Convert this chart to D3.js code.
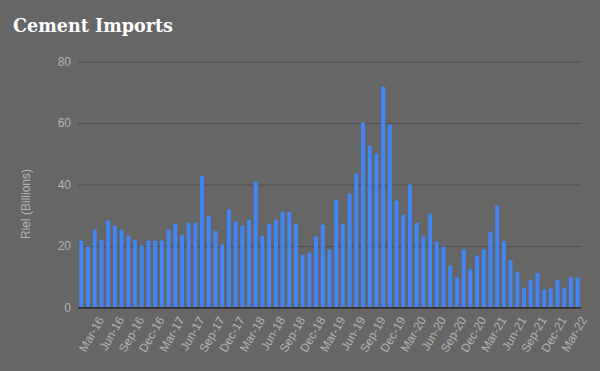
<!DOCTYPE html>
<html><head><meta charset="utf-8">
<script src="https://cdn.jsdelivr.net/npm/d3@7"></script>
<style>html,body{margin:0;padding:0;background:#666666;}svg{display:block;}</style>
</head><body>
<svg id="chart" width="600" height="371"></svg>
<script>
const months = ["Jan-16","Feb-16","Mar-16","Apr-16","May-16","Jun-16","Jul-16","Aug-16","Sep-16","Oct-16","Nov-16","Dec-16",
"Jan-17","Feb-17","Mar-17","Apr-17","May-17","Jun-17","Jul-17","Aug-17","Sep-17","Oct-17","Nov-17","Dec-17",
"Jan-18","Feb-18","Mar-18","Apr-18","May-18","Jun-18","Jul-18","Aug-18","Sep-18","Oct-18","Nov-18","Dec-18",
"Jan-19","Feb-19","Mar-19","Apr-19","May-19","Jun-19","Jul-19","Aug-19","Sep-19","Oct-19","Nov-19","Dec-19",
"Jan-20","Feb-20","Mar-20","Apr-20","May-20","Jun-20","Jul-20","Aug-20","Sep-20","Oct-20","Nov-20","Dec-20",
"Jan-21","Feb-21","Mar-21","Apr-21","May-21","Jun-21","Jul-21","Aug-21","Sep-21","Oct-21","Nov-21","Dec-21",
"Jan-22","Feb-22","Mar-22"];
const imports = [21.8,20.0,25.4,22.1,28.3,26.7,25.4,23.4,22.1,20.2,21.8,21.8,
21.8,25.4,27.3,23.7,27.6,27.6,42.9,29.9,25.0,20.5,31.9,28.0,
26.7,28.6,41.0,23.4,27.3,28.6,31.2,31.2,27.3,17.2,17.9,23.1,
27.0,18.9,35.1,27.3,37.1,43.6,60.2,52.7,50.1,71.9,59.5,34.8,
30.2,40.0,27.6,23.1,30.6,21.5,19.9,13.7,9.9,19.0,12.5,17.0,
19.0,24.8,33.3,21.6,15.4,11.5,6.6,8.9,11.2,6.0,6.3,9.2,
6.6,9.9,9.9];
const tickLabels = ["Mar-16","Jun-16","Sep-16","Dec-16","Mar-17","Jun-17","Sep-17","Dec-17","Mar-18","Jun-18","Sep-18","Dec-18",
"Mar-19","Jun-19","Sep-19","Dec-19","Mar-20","Jun-20","Sep-20","Dec-20","Mar-21","Jun-21","Sep-21","Dec-21","Mar-22"];
const yTicks = [0,20,40,60,80];

const svg = d3.select("#chart");
const mLeft = 78, mRight = 581, mTop = 61.5, mBottom = 307.7;

const x = d3.scaleBand().domain(months).range([mLeft, mRight]).paddingInner(0.4).paddingOuter(0.2);
const y = d3.scaleLinear().domain([0, 80]).range([mBottom, mTop]);

svg.append("rect").attr("width",600).attr("height",371).attr("fill","#666666");

svg.append("text").attr("x",13).attr("y",32)
  .attr("font-family","'DejaVu Serif', serif").attr("font-weight","bold")
  .attr("font-size",18).attr("fill","#ffffff")
  .attr("textLength",160).attr("lengthAdjust","spacingAndGlyphs")
  .text("Cement Imports");

// gridlines
const yAxis = d3.axisLeft(y).tickValues(yTicks).tickSize(-(mRight-mLeft)).tickPadding(7);
const gy = svg.append("g").attr("transform",`translate(${mLeft},0)`).call(yAxis);
gy.select(".domain").remove();
gy.selectAll(".tick line").attr("stroke","#4d4d4d").attr("stroke-width",1);
gy.selectAll(".tick text").attr("fill","#b3b3b3").attr("font-family","Arial, 'Liberation Sans', sans-serif").attr("font-size",12);

svg.append("g").selectAll("rect").data(imports).join("rect")
  .attr("x",(d,i)=>x(months[i]))
  .attr("width",x.bandwidth())
  .attr("y",d=>y(d))
  .attr("height",d=>y(0)-y(d))
  .attr("rx",1)
  .attr("fill","#4285f4");

// baseline
svg.append("line").attr("x1",mLeft).attr("x2",mRight).attr("y1",y(0)).attr("y2",y(0))
  .attr("stroke","#333333").attr("stroke-width",1.5);

// x axis labels
const xAxis = d3.axisBottom(x).tickValues(tickLabels).tickSize(0).tickPadding(0);
const gx = svg.append("g").attr("transform",`translate(0,${mBottom})`).call(xAxis);
gx.select(".domain").remove();
gx.selectAll(".tick text")
  .attr("fill","#b3b3b3").attr("font-family","Arial, 'Liberation Sans', sans-serif").attr("font-size",12)
  .attr("text-anchor","end")
  .attr("transform","translate(6,10) rotate(-60)")
  .attr("dy","0.35em").attr("y",0);

svg.append("text")
  .attr("transform","translate(30,204) rotate(-90)")
  .attr("text-anchor","middle")
  .attr("fill","#b3b3b3").attr("font-family","Arial, 'Liberation Sans', sans-serif").attr("font-size",12)
  .text("Riel (Billions)");
</script>
</body></html>
